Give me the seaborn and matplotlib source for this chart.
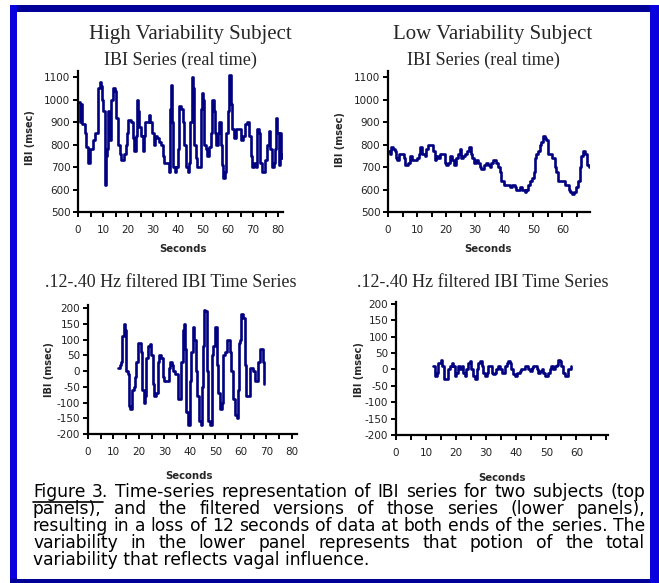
import matplotlib
matplotlib.use("Agg")
import matplotlib.pyplot as plt
from matplotlib.patches import Rectangle
from matplotlib.lines import Line2D
import seaborn as sns

# Data (seconds, IBI in msec)
hi_t = [0.0, 0.7, 1.1, 1.6, 2.6, 3.3, 4.0, 4.9, 6.0, 6.9, 8.0, 8.6, 9.3, 9.7, 10.1, 10.7,
        11.3, 11.7, 12.1, 12.3, 12.7, 13.3, 13.9, 14.9, 15.3, 15.9, 16.6, 17.0, 17.9, 18.3,
        19.0, 19.5, 20.0, 21.1, 21.9, 22.5, 23.2, 23.5, 23.9, 24.5, 25.2, 25.9, 26.3, 26.9,
        27.9, 28.2, 28.9, 29.6, 30.2, 30.9, 31.6, 32.2, 33.2, 33.8, 34.5, 35.4, 36.2, 36.9,
        37.1, 37.5, 37.9, 38.6, 39.1, 39.8, 40.5, 41.1, 41.8, 42.4, 43.1, 43.8, 44.2, 44.7,
        45.4, 45.8, 46.2, 46.4, 47.1, 47.7, 48.7, 49.1, 49.5, 50.0, 50.4, 51.1, 51.7, 52.4,
        53.1, 53.7, 54.4, 54.8, 55.3, 56.0, 56.4, 57.0, 57.7, 58.1, 58.8, 59.3, 59.9, 60.3,
        61.0, 61.7, 62.3, 63.0, 64.3, 65.0, 65.9, 66.7, 67.6, 68.3, 69.0, 69.6, 70.3, 71.0,
        71.6, 72.3, 72.9, 73.6, 74.7, 75.6, 76.3, 76.9, 77.6, 78.2, 78.9, 79.3, 79.7, 80.2,
        80.6, 81.2, 81.6]
hi_ibi = [990, 900, 980, 890, 850, 790, 720, 780, 820, 850, 1050, 1080, 1060, 1000, 950, 620,
          750, 780, 950, 850, 820, 1000, 1050, 1040, 920, 800, 760, 730, 730, 760,
          800, 850, 910, 900, 830, 770, 840, 1000, 950, 880, 840, 770, 840, 900,
          900, 930, 900, 850, 800, 840, 830, 810, 800, 750, 720, 720, 680, 960,
          1065, 900, 700, 680, 700, 780, 970, 960, 900, 800, 700, 680, 720, 900,
          1100, 1050, 900, 800, 740, 700, 700, 960, 1030, 1000, 800, 780, 750, 790,
          850, 1000, 950, 850, 800, 850, 900, 800, 710, 650, 680, 850, 950, 1110,
          980, 870, 830, 870, 870, 820, 840, 890, 900, 840, 750, 700, 720, 700,
          870, 850, 720, 680, 730, 800, 860, 780, 700, 720, 780, 920, 850, 710,
          850, 740, 760]

lo_t = [0.0, 0.6, 1.1, 1.7, 2.3, 2.6, 3.1, 3.7, 4.8, 5.4, 6.0, 6.9, 7.7, 8.3, 9.2, 10.0,
        10.7, 11.1, 11.8, 12.6, 13.2, 13.8, 14.9, 15.5, 16.0, 16.6, 17.2, 17.8, 18.7, 19.5,
        20.1, 20.6, 21.4, 22.0, 22.6, 23.3, 24.0, 24.7, 25.2, 25.8, 26.4, 27.2, 27.9, 28.4,
        29.0, 29.5, 30.4, 31.0, 31.5, 32.1, 32.9, 33.8, 34.4, 35.0, 35.6, 36.1, 37.3, 37.8,
        38.4, 39.0, 39.8, 40.7, 41.9, 42.8, 43.6, 44.2, 45.3, 46.2, 47.0, 47.6, 48.2, 48.7,
        49.7, 50.1, 50.5, 51.0, 51.6, 52.2, 52.8, 53.3, 53.9, 54.5, 55.0, 55.8, 56.5, 57.3,
        57.9, 58.5, 59.0, 60.2, 60.8, 61.6, 62.3, 62.7, 63.4, 64.0, 64.6, 65.4, 66.0, 66.5,
        67.1, 67.9, 68.5, 69.1]
lo_ibi = [770, 760, 790, 780, 770, 740, 730, 760, 760, 740, 710, 720, 750, 730, 730, 740,
          760, 790, 760, 750, 780, 800, 800, 770, 730, 750, 740, 760, 760, 720,
          710, 720, 750, 730, 710, 740, 760, 780, 740, 750, 760, 770, 790, 760,
          740, 720, 730, 720, 700, 690, 710, 720, 710, 700, 720, 730, 720, 700,
          680, 640, 620, 620, 610, 620, 610, 600, 610, 600, 590, 600, 620, 640,
          650, 680, 740, 760, 770, 800, 810, 840, 830, 820, 760, 760, 740, 700,
          680, 640, 640, 640, 620, 620, 600, 590, 580, 590, 610, 640, 700, 750,
          770, 760, 710, 700]

hf_t = [11.7, 12.4, 13.0, 13.4, 14.0, 14.7, 15.1, 15.6, 16.0, 16.6, 17.3, 17.9, 18.6, 19.0,
        19.5, 20.2, 20.8, 21.2, 21.8, 22.5, 22.9, 23.4, 24.2, 24.8, 25.4, 26.0, 26.8, 27.3,
        28.0, 28.6, 29.3, 29.6, 30.0, 30.9, 31.6, 32.2, 32.9, 33.5, 34.2, 34.9, 35.4, 36.1,
        36.5, 37.1, 37.7, 38.1, 38.6, 39.4, 40.1, 40.4, 41.1, 41.6, 42.3, 42.9, 43.6, 44.2,
        44.6, 45.0, 45.5, 46.0, 46.6, 47.2, 47.9, 48.5, 49.2, 49.8, 50.5, 51.1, 51.8, 52.4,
        53.1, 53.7, 54.4, 55.0, 55.7, 56.3, 57.0, 57.6, 58.3, 58.9, 59.3, 59.8, 60.2, 60.9,
        61.5, 61.9, 62.8, 63.5, 64.1, 64.8, 65.4, 66.1, 66.7, 67.4, 68.4, 68.7, 69.0]
hf_ibi = [10, 20, 30, 110, 150, 130, 0, -10, -110, -120, -60, -50, -20, 30,
          90, 90, 60, -60, -100, -80, 40, 80, 85, 50, -40, -80, -70, 30,
          50, 40, 0, -20, -30, -30, 10, 30, 20, 0, -10, -10, -90, -90,
          30, 130, 150, 70, -130, -170, -30, 60, 140, 100, 0, -80, -160, -170,
          -50, 80, 195, 190, 0, -160, -170, 50, 80, 140, 20, -70, -120, -100,
          50, 60, 100, 100, 60, 0, -90, -140, -150, -60, 90, 100, 180, 170,
          20, -80, -80, 10, 10, 0, -30, -30, 30, 70, 70, 30, -40]

lf_t = [12.4, 13.0, 13.5, 14.0, 14.8, 15.4, 16.0, 16.8, 17.4, 17.9, 18.5, 19.0, 19.6, 20.1,
        20.7, 21.2, 21.8, 22.3, 22.9, 23.4, 24.0, 24.6, 25.1, 25.7, 26.2, 26.8, 27.4, 27.9,
        28.5, 29.0, 29.6, 30.1, 30.7, 31.2, 31.8, 32.3, 32.9, 33.4, 34.0, 34.6, 35.1, 35.6,
        36.2, 36.8, 37.3, 37.9, 38.4, 39.0, 39.5, 40.1, 40.6, 41.2, 41.7, 42.3, 42.9, 43.4,
        44.0, 44.5, 45.1, 45.6, 46.2, 46.8, 47.3, 47.8, 48.4, 49.0, 49.5, 50.0, 50.6, 51.2,
        51.7, 52.3, 52.8, 53.4, 53.9, 54.5, 55.0, 55.6, 56.1, 56.7, 57.3, 58.1]
lf_ibi = [10, -20, -10, 20, 30, 10, -30, -30, 0, 10, 20, 10, -20, -10,
          10, 0, 10, -10, -20, 0, 20, 25, 0, -20, -30, 0, 20, 25,
          10, -10, -20, -10, 10, 10, -10, -15, -10, 0, 10, 0, -10, -10,
          10, 20, 25, 20, 0, -15, -20, -10, -10, -5, 0, 0, 10, 10,
          0, -5, 5, 10, 10, 0, -10, -5, 0, -10, -20, -20, -10, 0,
          10, 0, 10, 15, 30, 25, 10, -10, -20, -20, 0, 10]

W, H = 659, 583
LINE = "#000080"

sns.set_style("ticks")
plt.rcParams["font.family"] = ["DejaVu Sans"]

fig = plt.figure(figsize=(W / 100, H / 100), dpi=100)


def rect(left, right, top, bottom):
    return [left / W, 1 - bottom / H, (right - left) / W, (bottom - top) / H]


def panel(box, t, v, xmax, ylim, yticks, xlab_last, xlab_pos, ylab_pos):
    ax = fig.add_axes(rect(*box))
    sns.lineplot(x=t, y=v, ax=ax, color=LINE, linewidth=1.9, estimator=None,
                 drawstyle="steps-post")
    ax.set_xlim(0, xmax)
    ax.set_ylim(*ylim)
    xt = list(range(0, int(xmax) + 1, 5))
    ax.set_xticks(xt)
    ax.set_xticklabels([str(x) if x % 10 == 0 and x <= xlab_last else "" for x in xt])
    ax.set_yticks(yticks)
    ax.set_yticklabels([str(y) for y in yticks])
    for side in ["top", "right"]:
        ax.spines[side].set_visible(False)
    for side in ["left", "bottom"]:
        ax.spines[side].set_linewidth(1.6)
        ax.spines[side].set_color("black")
    ax.tick_params(axis="both", direction="out", length=3.5, width=1.4, color="black",
                   labelsize=7.5, labelcolor="#222222")
    ax.tick_params(axis="x", pad=6)
    ax.tick_params(axis="y", pad=2)
    ax.set_xlabel("Seconds", fontsize=7.3, fontweight="bold")
    ax.xaxis.label.set_va("center")
    ax.xaxis.set_label_coords(xlab_pos[0] / W, 1 - xlab_pos[1] / H, transform=fig.transFigure)
    ax.set_ylabel("IBI (msec)", fontsize=7, fontweight="bold")
    ax.yaxis.label.set_va("center")
    ax.yaxis.set_label_coords(ylab_pos[0] / W, 1 - ylab_pos[1] / H, transform=fig.transFigure)
    ax.set_facecolor("white")
    return ax


raw_ticks = list(range(500, 1101, 100))
filt_ticks = list(range(-200, 201, 50))

panel((78, 283, 71, 212), hi_t, hi_ibi, 82, (500, 1127), raw_ticks, 80, (183, 249), (30, 138))
panel((388, 590, 71, 212), lo_t, lo_ibi, 69.5, (500, 1127), raw_ticks, 60, (488, 249), (340, 140))
panel((88, 297, 305, 434), hf_t, hf_ibi, 82, (-200, 210), filt_ticks, 80, (189, 476), (49, 370))
panel((396, 608, 302, 435), lf_t, lf_ibi, 70.5, (-200, 206), filt_ticks, 60, (502, 478), (359, 370))

serif = ["Liberation Serif", "DejaVu Serif"]


def ftext(x, y, s, **kw):
    return fig.text(x / W, 1 - y / H, s, **kw)


ftext(190, 39, "High Variability Subject", family=serif, fontsize=15, ha="center", va="baseline")
ftext(493, 39, "Low Variability Subject", family=serif, fontsize=15, ha="center", va="baseline")
ftext(180, 65, "IBI Series (real time)", family=serif, fontsize=13, ha="center", va="baseline")
ftext(483, 65, "IBI Series (real time)", family=serif, fontsize=13, ha="center", va="baseline")
ftext(171, 287, ".12-.40 Hz filtered IBI Time Series", family=serif, fontsize=13, ha="center", va="baseline")
ftext(483, 287, ".12-.40 Hz filtered IBI Time Series", family=serif, fontsize=13, ha="center", va="baseline")

# caption, justified like the original
caption = [
    "Figure 3. Time-series representation of IBI series for two subjects (top",
    "panels), and the filtered versions of those series (lower panels),",
    "resulting in a loss of 12 seconds of data at both ends of the series. The",
    "variability in the lower panel represents that potion of the total",
    "variability that reflects vagal influence.",
]
renderer = fig.canvas.get_renderer()
CAP_X0, CAP_X1, CAP_Y0, CAP_DY = 33, 645, 497, 17

cap_kw = dict(fontsize=12.3, va="baseline", ha="left", color="black")
for i, line in enumerate(caption):
    y = CAP_Y0 + i * CAP_DY
    if i == len(caption) - 1:
        ftext(CAP_X0, y, line, **cap_kw)
        continue
    words = line.split()
    texts = [ftext(0, y, w, **cap_kw) for w in words]
    widths = [t.get_window_extent(renderer).width for t in texts]
    gap = (CAP_X1 - CAP_X0 - sum(widths)) / (len(words) - 1)
    x = CAP_X0
    for t, w in zip(texts, widths):
        t.set_x(x / W)
        x += w + gap
    if i == 0:
        # underline "Figure 3"
        uw = widths[0] + gap + widths[1] - renderer.points_to_pixels(12.3) * 0.3
        fig.add_artist(Line2D([CAP_X0 / W, (CAP_X0 + uw) / W],
                              [1 - (y + 5) / H] * 2, color="black", linewidth=1.2,
                              transform=fig.transFigure))

# blue frame
frame = [
    (10, 5, 649, 7, "#000099"),
    (10, 5, 7, 578, "#0A00DD"),
    (650, 5, 9, 578, "#0A00DD"),
    (10, 579, 640, 4, "#000099"),
]
for x, y, w, h, c in frame:
    fig.add_artist(Rectangle((x / W, 1 - (y + h) / H), w / W, h / H, facecolor=c,
                             edgecolor="none", transform=fig.transFigure))

fig.savefig("out.png", dpi=100, facecolor="white")
